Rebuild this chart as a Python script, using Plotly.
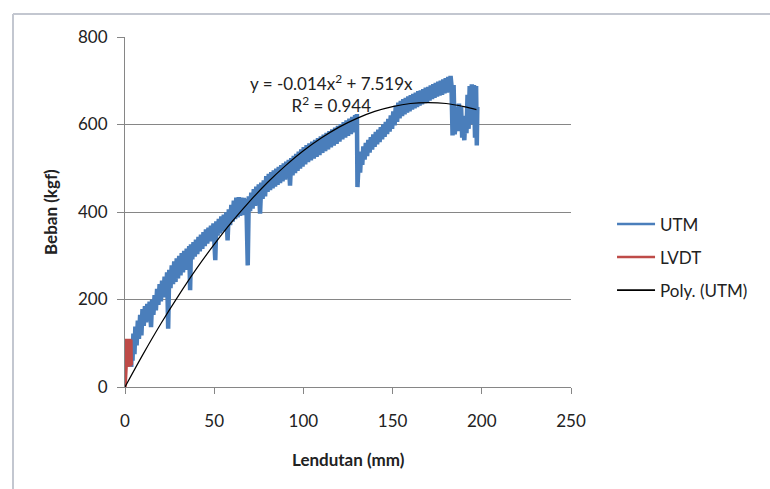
import plotly.graph_objects as go

# ---- data ----
utm_x = [3.5, 3.7, 4.2, 4.7, 5.3, 5.8, 6.5, 7.2, 7.8, 8.5, 9.2, 9.8, 10.5, 11.2, 11.8, 12.5, 13.2, 13.8,
         14.6, 15.2, 15.9, 16.6, 17.3, 18.0, 18.7, 19.4, 20.1, 20.8, 21.5, 22.2, 22.9, 23.6, 24.2, 24.8,
         25.5, 26.2, 26.9, 27.6, 28.3, 29.0, 29.7, 30.4, 31.1, 31.8, 32.5, 33.2, 33.9, 34.6, 35.3, 36.0,
         36.5, 37.0, 37.7, 38.4, 39.1, 39.8, 40.5, 41.2, 41.9, 42.6, 43.3, 44.0, 44.7, 45.4, 46.1, 46.8,
         47.5, 48.2, 48.9, 49.6, 50.6, 51.2, 51.9, 52.6, 53.3, 54.0, 54.7, 55.4, 56.1, 56.8, 57.5, 58.2,
         58.9, 59.6, 60.3, 61.0, 61.7, 62.4, 63.1, 63.8, 64.5, 65.2, 65.9, 66.6, 67.3, 68.0, 68.8, 69.4,
         70.1, 70.8, 71.5, 72.2, 72.9, 73.6, 74.3, 75.0, 75.7, 76.4, 77.1, 77.8, 78.5, 79.2, 79.9, 80.6,
         81.3, 82.0, 82.7, 83.4, 84.1, 84.8, 85.5, 86.2, 86.9, 87.6, 88.3, 89.0, 89.7, 90.4, 91.1, 91.8,
         92.5, 93.2, 93.9, 94.6, 95.3, 96.0, 96.7, 97.4, 98.1, 98.8, 99.5, 100.2, 101.0, 101.8, 102.6,
         103.4, 104.2, 105.0, 105.8, 106.6, 107.4, 108.2, 109.0, 109.8, 110.6, 111.4, 112.2, 113.0, 113.8,
         114.6, 115.4, 116.2, 117.0, 117.8, 118.6, 119.4, 120.2, 121.0, 121.8, 122.6, 123.4, 124.2, 125.0,
         125.8, 126.6, 127.4, 128.2, 129.0, 129.6, 130.0, 130.3, 130.8, 131.2, 131.8, 132.4, 133.0, 133.6,
         134.3, 135.0, 135.7, 136.4, 137.1, 137.8, 138.5, 139.2, 139.9, 140.6, 141.3, 142.0, 142.7, 143.4,
         144.1, 144.8, 145.5, 146.2, 146.9, 147.6, 148.3, 149.0, 149.7, 150.4, 151.1, 151.8, 152.5, 153.2,
         153.9, 154.6, 155.3, 156.0, 156.7, 157.4, 158.1, 158.8, 159.5, 160.2, 160.9, 161.6, 162.3, 163.0,
         163.7, 164.4, 165.1, 165.8, 166.5, 167.2, 167.9, 168.6, 169.3, 170.0, 170.7, 171.4, 172.1, 172.8,
         173.5, 174.2, 174.9, 175.6, 176.3, 177.0, 177.7, 178.4, 179.1, 179.8, 180.5, 181.2, 181.9, 182.5,
         183.0, 183.6, 184.2, 184.8, 185.4, 186.0, 186.6, 187.2, 187.8, 188.4, 189.0, 189.6, 190.2, 190.8,
         191.4, 192.0, 192.6, 193.2, 193.8, 194.4, 195.0, 195.6, 196.2, 196.8, 197.2, 197.5]
utm_y = [46, 107, 60, 122, 75, 138, 95, 152, 110, 165, 118, 178, 140, 185, 148, 190, 155, 195,
         137, 200, 165, 210, 175, 224, 188, 235, 196, 243, 205, 252, 212, 262, 133, 268,
         226, 278, 235, 287, 240, 294, 248, 300, 255, 306, 262, 311, 268, 316, 275, 322,
         221, 326, 292, 331, 298, 337, 304, 343, 310, 348, 316, 354, 322, 360, 328, 364,
         333, 369, 338, 374, 290, 379, 346, 384, 351, 390, 356, 394, 361, 399, 335, 406,
         370, 416, 378, 426, 384, 433, 388, 434, 391, 433, 393, 432, 395, 430, 278, 436,
         402, 444, 408, 452, 414, 458, 420, 463, 396, 467, 430, 472, 436, 482, 446, 487,
         450, 491, 454, 495, 458, 499, 462, 503, 466, 507, 470, 511, 474, 515, 478, 519,
         460, 523, 484, 528, 489, 533, 494, 538, 499, 543, 504, 548, 509, 553, 514,
         557, 518, 561, 522, 565, 526, 569, 530, 573, 535, 577, 539, 581, 543,
         585, 548, 589, 552, 593, 556, 597, 561, 601, 566, 605, 570, 609, 574,
         613, 578, 617, 582, 621, 588, 624, 457, 500, 522, 490, 538, 508, 550,
         520, 558, 528, 565, 536, 571, 543, 577, 549, 583, 555, 588, 560, 594,
         566, 600, 572, 606, 578, 613, 584, 621, 590, 630, 598, 643, 606, 650,
         614, 654, 619, 658, 623, 661, 627, 664, 630, 667, 634, 670, 637, 673,
         640, 676, 643, 678, 646, 681, 649, 684, 652, 686, 655, 689, 658, 692,
         661, 695, 664, 698, 666, 700, 668, 703, 671, 706, 673, 709, 675, 711,
         690, 575, 690, 578, 600, 640, 585, 648, 590, 640, 570, 600, 564, 620,
         580, 668, 590, 688, 600, 692, 610, 690, 570, 688, 552, 640]

lvdt_x = [0.0, 0.3, 0.6, 0.9, 1.2, 1.5, 1.8, 2.1, 2.4, 2.7, 3.0, 3.3, 3.5]
lvdt_y = [0, 20, 45, 110, 48, 110, 46, 110, 48, 110, 47, 108, 50]

poly_x = [0, 10, 20, 30, 40, 50, 60, 70, 80, 90, 100, 110, 120, 130, 140, 150, 160, 170, 180, 190, 197]
poly_y = [0, 74, 144, 209, 270, 326, 378, 425, 468, 506, 540, 569, 594, 614, 630, 641, 648, 650, 648, 641, 634]

series_names = ["UTM", "LVDT", "Poly. (UTM)"]
series_colors = ["#4a7ebb", "#be4b48", "#000000"]
x_title = "Lendutan (mm)"
y_title = "Beban (kgf)"
eq_line1 = "y = -0.014x<sup>2</sup> + 7.519x"
eq_line2 = "R<sup>2</sup> = 0.944"

FONT = "Lato"
FS = 17
TXT = "#222222"
GRID = "#868686"

fig = go.Figure()
fig.add_trace(go.Scatter(x=utm_x, y=utm_y, mode="lines", name=series_names[0], showlegend=False,
                         line=dict(color=series_colors[0], width=4.5, simplify=False)))
fig.add_trace(go.Scatter(x=lvdt_x, y=lvdt_y, mode="lines", name=series_names[1], showlegend=False,
                         line=dict(color=series_colors[1], width=3.5, simplify=False)))
fig.add_trace(go.Scatter(x=poly_x, y=poly_y, mode="lines", name=series_names[2], showlegend=False,
                         line=dict(color=series_colors[2], width=1.2, shape="spline")))

# legend entries (thinner sample lines, as in the reference legend)
legend_widths = [2.5, 2.5, 1.8]
for i, nm in enumerate(series_names):
    fig.add_trace(go.Scatter(x=[None], y=[None], mode="lines", name=nm, legendgroup="g%d" % i,
                             line=dict(color=series_colors[i], width=legend_widths[i])))

fig.update_layout(
    width=770, height=489,
    margin=dict(l=125, r=199, t=37, b=102),
    paper_bgcolor="white", plot_bgcolor="white",
    font=dict(family=FONT, size=FS, color=TXT),
    showlegend=True,
    legend=dict(x=1.092, y=0.516, xanchor="left", yanchor="top",
                font=dict(family=FONT, size=FS, color=TXT),
                tracegroupgap=8, itemwidth=38, bgcolor="rgba(0,0,0,0)"),
    xaxis=dict(range=[0, 250], dtick=50, tick0=0, showgrid=False, zeroline=False,
               showline=True, linecolor=GRID, linewidth=1,
               ticks="outside", ticklen=6, tickcolor=GRID, ticklabelstandoff=13,
               tickfont=dict(family=FONT, size=FS, color=TXT)),
    yaxis=dict(range=[0, 800], dtick=200, tick0=0, showgrid=True, gridcolor=GRID, gridwidth=1,
               zeroline=False, showline=True, linecolor=GRID, linewidth=1,
               ticks="outside", ticklen=7, tickcolor=GRID, ticklabelstandoff=6,
               tickfont=dict(family=FONT, size=FS, color=TXT)),
    annotations=[
        dict(text="<b>" + x_title + "</b>", xref="paper", yref="paper", x=0.5, y=(387 - 459) / 350,
             xanchor="center", yanchor="middle",
             showarrow=False, font=dict(family=FONT, size=FS, color=TXT)),
        dict(text="<b>" + y_title + "</b>", xref="paper", yref="paper", x=(50 - 125) / 446, y=0.5,
             xanchor="center", yanchor="middle",
             textangle=-90, showarrow=False, font=dict(family=FONT, size=FS, color=TXT)),
        dict(text=eq_line1 + "<br>" + eq_line2, xref="paper", yref="paper",
             x=(331 - 125) / 446, y=(387 - 93) / 350, align="center",
             xanchor="center", yanchor="middle",
             showarrow=False, font=dict(family=FONT, size=FS, color=TXT)),
    ],
    shapes=[
        dict(type="line", xref="paper", yref="paper", x0=-0.2511, x1=-0.2511, y0=-0.4, y1=1.0657,
             line=dict(color="#c3c7d0", width=2)),
        dict(type="line", xref="paper", yref="paper", x0=-0.2511, x1=1.6, y0=1.0657, y1=1.0657,
             line=dict(color="#c3c7d0", width=2)),
    ],
)

fig.write_html("out.html")
